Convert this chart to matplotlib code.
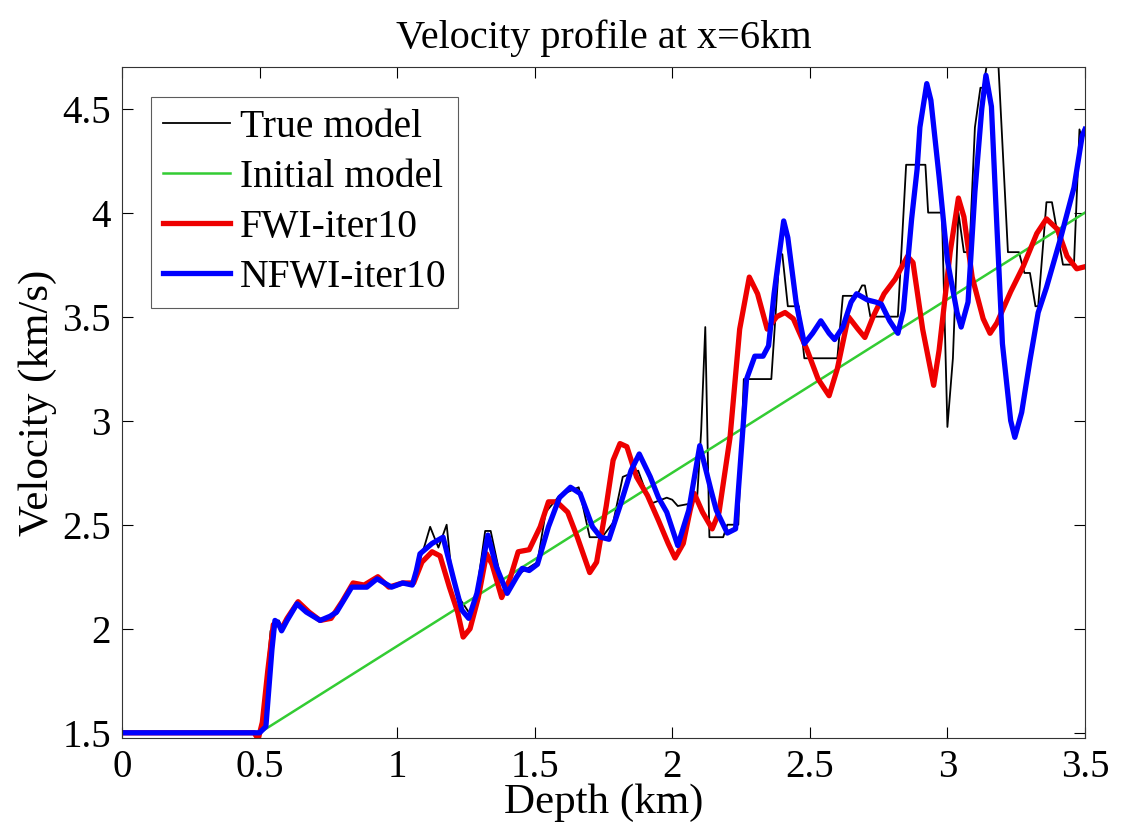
import numpy as np
import matplotlib
matplotlib.use('Agg')
from matplotlib import pyplot as plt
from matplotlib.ticker import FormatStrFormatter

plt.rcParams['font.family'] = ['Liberation Serif', 'DejaVu Serif']

# true model (black, blocky)
true_x = [0, 0.50, 0.51, 0.54, 0.555, 0.57, 0.58, 0.60, 0.636, 0.67, 0.72, 0.756, 0.78, 0.835,
          0.89, 0.927, 0.98, 1.02, 1.055, 1.07, 1.10, 1.12, 1.15, 1.18, 1.20, 1.23, 1.26, 1.28,
          1.32, 1.34, 1.38, 1.40, 1.45, 1.51, 1.54, 1.59, 1.66, 1.70, 1.745, 1.785, 1.82, 1.876,
          1.92, 1.98, 2.00, 2.02, 2.06, 2.09, 2.105, 2.12, 2.135, 2.185, 2.20, 2.24, 2.26, 2.36,
          2.39, 2.40, 2.42, 2.46, 2.48, 2.60, 2.62, 2.67, 2.69, 2.70, 2.72, 2.82, 2.85, 2.92,
          2.93, 2.98, 3.00, 3.02, 3.04, 3.06, 3.08, 3.10, 3.12, 3.13, 3.16, 3.18, 3.22, 3.26,
          3.28, 3.30, 3.32, 3.33, 3.36, 3.38, 3.42, 3.46, 3.48, 3.49, 3.50]
true_v = [1.5, 1.5, 1.52, 1.99, 2.0, 2.04, 2.0, 2.04, 2.11, 2.08, 2.04, 2.06, 2.07, 2.2,
          2.2, 2.24, 2.2, 2.22, 2.22, 2.28, 2.40, 2.49, 2.39, 2.50, 2.24, 2.14, 2.08, 2.09,
          2.47, 2.47, 2.22, 2.19, 2.27, 2.32, 2.56, 2.64, 2.68, 2.44, 2.44, 2.51, 2.73, 2.76,
          2.60, 2.63, 2.62, 2.59, 2.60, 2.62, 2.95, 3.45, 2.44, 2.44, 2.50, 2.50, 3.20, 3.20,
          3.80, 3.80, 3.55, 3.55, 3.30, 3.30, 3.60, 3.60, 3.65, 3.65, 3.50, 3.50, 4.23, 4.23,
          4.0, 4.0, 2.97, 3.3, 4.0, 3.81, 3.81, 4.41, 4.60, 4.60, 4.85, 4.85, 3.81, 3.81,
          3.71, 3.71, 3.55, 3.55, 4.05, 4.05, 3.75, 3.75, 4.40, 4.35, 4.39]

# initial model (green)
init_x = [0, 0.5, 3.5]
init_v = [1.5, 1.5, 4.0]

# FWI after 10 iterations (red)
fwi_x = [0, 0.48, 0.495, 0.51, 0.53, 0.55, 0.565, 0.58, 0.60, 0.64, 0.68, 0.72, 0.76, 0.80,
         0.84, 0.88, 0.93, 0.97, 1.02, 1.06, 1.09, 1.127, 1.156, 1.19, 1.22, 1.24, 1.265, 1.295,
         1.325, 1.345, 1.38, 1.41, 1.44, 1.48, 1.52, 1.55, 1.58, 1.62, 1.655, 1.70, 1.725, 1.76,
         1.785, 1.81, 1.835, 1.87, 1.91, 1.95, 1.985, 2.01, 2.04, 2.065, 2.08, 2.11, 2.145, 2.17,
         2.21, 2.245, 2.28, 2.31, 2.345, 2.38, 2.41, 2.44, 2.49, 2.53, 2.57, 2.60, 2.64, 2.675,
         2.70, 2.73, 2.77, 2.81, 2.855, 2.875, 2.91, 2.95, 2.97, 3.01, 3.04, 3.06, 3.09, 3.13,
         3.155, 3.18, 3.23, 3.275, 3.325, 3.36, 3.40, 3.435, 3.47, 3.50]
fwi_v = [1.5, 1.5, 1.47, 1.55, 1.8, 2.02, 2.03, 2.0, 2.05, 2.13, 2.08, 2.04, 2.05, 2.13,
         2.22, 2.21, 2.25, 2.20, 2.22, 2.22, 2.32, 2.37, 2.35, 2.20, 2.08, 1.96, 2.0, 2.15,
         2.36, 2.31, 2.15, 2.24, 2.37, 2.38, 2.49, 2.61, 2.61, 2.56, 2.44, 2.27, 2.32, 2.59,
         2.81, 2.89, 2.875, 2.73, 2.64, 2.52, 2.41, 2.34, 2.41, 2.57, 2.65, 2.56, 2.48, 2.56,
         2.92, 3.44, 3.69, 3.61, 3.44, 3.50, 3.52, 3.49, 3.34, 3.20, 3.12, 3.25, 3.50, 3.44,
         3.40, 3.50, 3.61, 3.68, 3.79, 3.76, 3.44, 3.17, 3.34, 3.81, 4.07, 3.98, 3.69, 3.49,
         3.42, 3.47, 3.62, 3.74, 3.90, 3.97, 3.92, 3.79, 3.73, 3.74]

# NFWI after 10 iterations (blue)
nfwi_x = [0, 0.50, 0.523, 0.545, 0.556, 0.567, 0.58, 0.60, 0.636, 0.67, 0.72, 0.756, 0.78, 0.835,
          0.89, 0.927, 0.98, 1.02, 1.055, 1.07, 1.083, 1.127, 1.167, 1.205, 1.235, 1.26, 1.29, 1.33,
          1.36, 1.40, 1.435, 1.455, 1.48, 1.51, 1.55, 1.59, 1.63, 1.665, 1.71, 1.74, 1.77, 1.81,
          1.85, 1.88, 1.92, 1.95, 1.98, 2.02, 2.06, 2.10, 2.14, 2.16, 2.20, 2.23, 2.27, 2.30,
          2.33, 2.35, 2.37, 2.39, 2.405, 2.42, 2.45, 2.48, 2.51, 2.54, 2.57, 2.59, 2.62, 2.65,
          2.67, 2.71, 2.74, 2.76, 2.79, 2.82, 2.84, 2.87, 2.89, 2.90, 2.925, 2.94, 2.97, 3.00,
          3.035, 3.05, 3.075, 3.10, 3.125, 3.14, 3.16, 3.18, 3.20, 3.23, 3.245, 3.27, 3.30, 3.33,
          3.36, 3.41, 3.46, 3.49, 3.50]
nfwi_v = [1.5, 1.5, 1.53, 1.90, 2.04, 2.03, 1.99, 2.04, 2.12, 2.08, 2.04, 2.06, 2.08, 2.20,
          2.20, 2.24, 2.20, 2.22, 2.21, 2.28, 2.36, 2.41, 2.44, 2.24, 2.09, 2.05, 2.17, 2.45,
          2.30, 2.17, 2.25, 2.29, 2.28, 2.31, 2.49, 2.63, 2.68, 2.65, 2.49, 2.44, 2.43, 2.59,
          2.76, 2.84, 2.73, 2.63, 2.56, 2.40, 2.57, 2.88, 2.67, 2.57, 2.46, 2.48, 3.20, 3.31,
          3.31, 3.36, 3.61, 3.81, 3.96, 3.88, 3.57, 3.37, 3.42, 3.48, 3.42, 3.39, 3.45, 3.57,
          3.61, 3.58, 3.57, 3.56, 3.48, 3.42, 3.53, 3.97, 4.21, 4.41, 4.62, 4.54, 4.17, 3.77,
          3.52, 3.45, 3.57, 4.10, 4.50, 4.66, 4.51, 3.93, 3.37, 3.00, 2.92, 3.04, 3.29, 3.52,
          3.64, 3.87, 4.12, 4.37, 4.40]

fig = plt.figure(figsize=(11.38, 8.32), dpi=100)
ax = fig.add_axes([0.1072, 0.113, 0.8462, 0.8065])

ax.plot(true_x, true_v, color='black', lw=1.3, label='True model')
ax.plot(init_x, init_v, color='#33cc33', lw=1.8, label='Initial model')
ax.plot(fwi_x, fwi_v, color='#ee0000', lw=3.8, solid_joinstyle='round', label='FWI-iter10')
ax.plot(nfwi_x, nfwi_v, color='#0000ff', lw=3.8, solid_joinstyle='round', label='NFWI-iter10')

ax.set_xlim(0, 3.5)
ax.set_ylim(1.475, 4.70)
ax.set_xticks(np.arange(0, 3.51, 0.5))
ax.set_yticks(np.arange(1.5, 4.51, 0.5))
ax.xaxis.set_major_formatter(FormatStrFormatter('%g'))
ax.yaxis.set_major_formatter(FormatStrFormatter('%g'))
ax.tick_params(direction='in', length=8, width=0.8, top=True, right=True,
               labelsize=28, pad=8)
for s in ax.spines.values():
    s.set_linewidth(0.8)
    s.set_color('#333333')

ax.set_xlabel('Depth (km)', fontsize=31, labelpad=-2)
ax.set_ylabel('Velocity (km/s)', fontsize=31, labelpad=4)
ax.set_title('Velocity profile at x=6km', fontsize=29, pad=14)

leg = ax.legend(loc='upper left', bbox_to_anchor=(0.03, 0.955), fontsize=28.5,
                frameon=True, fancybox=False, handlelength=1.7, handletextpad=0.25,
                labelspacing=0.33, borderpad=0.3, borderaxespad=0)
leg.get_frame().set_edgecolor('#333333')
leg.get_frame().set_linewidth(0.8)

fig.savefig('out.png', dpi=100)
